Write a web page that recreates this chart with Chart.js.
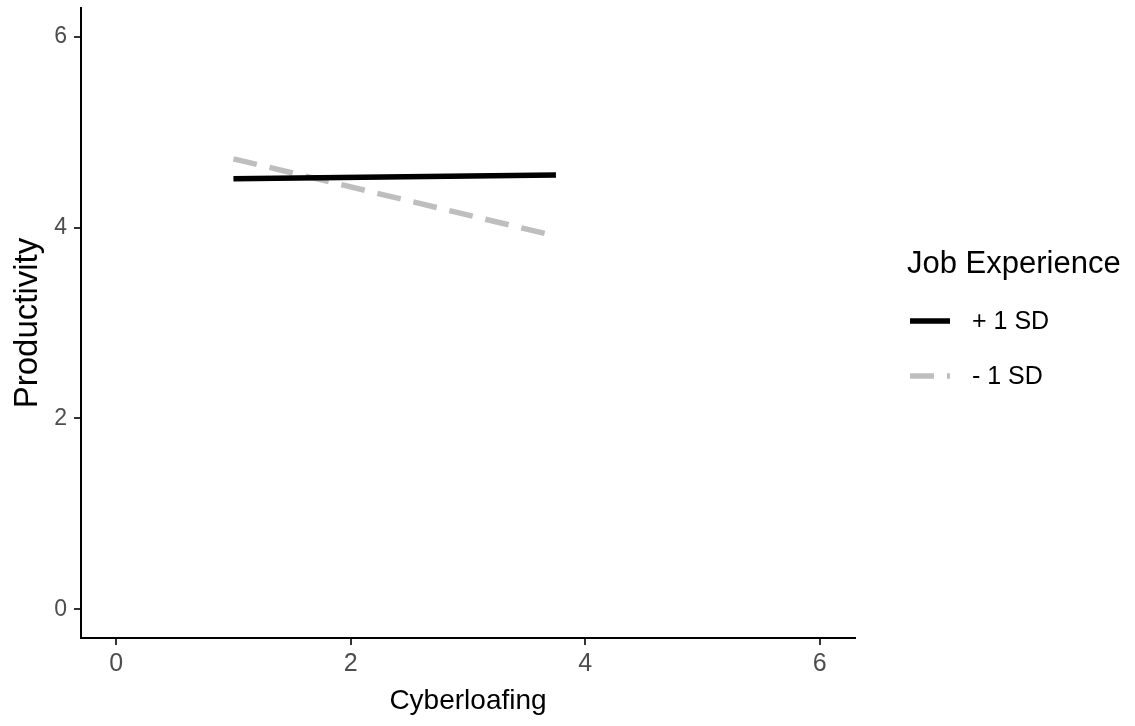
<!DOCTYPE html>
<html>
<head>
<meta charset="utf-8">
<script src="https://cdn.jsdelivr.net/npm/chart.js@4.4.1/dist/chart.umd.min.js"></script>
<style>
  html, body { margin: 0; padding: 0; background: #fff; }
  #wrap { width: 1135px; height: 726px; }
</style>
</head>
<body>
<div id="wrap"><canvas id="slopeChart"></canvas></div>
<script>
var cyberloafing = [1.0, 3.75];
var highExperience = [4.51, 4.55];
var lowExperience = [4.72, 3.91];
var groupLabels = ["+ 1 SD", "- 1 SD"];
var axisTicks = [0, 2, 4, 6];

var FONT = "'Liberation Sans', Arial, Helvetica, sans-serif";

function toPoints(ys) {
    return cyberloafing.map(function (x, i) {
        return { x: x, y: ys[i] };
    });
}

function fixedTicks(scale) {
    scale.ticks = axisTicks.map(function (v) { return { value: v }; });
}

// keep the plot box fixed: no extra room for half tick labels
function noEdgePadding(s) {
    s.paddingTop = 0;
    s.paddingBottom = 0;
    s.paddingLeft = 0;
    s.paddingRight = 0;
}

// legend to the right of the plot, keys use each dataset's own stroke
var sideLegend = {
    id: "sideLegend",
    afterDraw: function (chart) {
        var ctx = chart.ctx;
        var left = chart.chartArea.right + 52;
        ctx.save();
        ctx.fillStyle = "#000";
        ctx.textAlign = "left";
        ctx.textBaseline = "middle";
        ctx.font = "31px " + FONT;
        ctx.fillText("Job Experience", left, 264);
        ctx.font = "25px " + FONT;
        chart.data.datasets.forEach(function (ds, i) {
            var y = 321 + i * 55;
            ctx.beginPath();
            ctx.lineWidth = ds.borderWidth;
            ctx.strokeStyle = ds.borderColor;
            ctx.setLineDash(ds.borderDash || []);
            ctx.moveTo(left + 3, y);
            ctx.lineTo(left + 43, y);
            ctx.stroke();
            ctx.setLineDash([]);
            ctx.fillText(ds.label, left + 65, y + 1);
        });
        ctx.restore();
    }
};

var ctx = document.getElementById("slopeChart").getContext("2d");
var slopeChart = new Chart(ctx, {
    type: "line",
    data: {
        datasets: [
            {
                label: groupLabels[0],
                data: toPoints(highExperience),
                borderColor: "#000000",
                borderWidth: 5.5,
                borderCapStyle: "butt",
                pointRadius: 0,
                fill: false,
            },
            {
                label: groupLabels[1],
                data: toPoints(lowExperience),
                borderColor: "#bebebe",
                borderWidth: 5.5,
                borderDash: [24, 13],
                borderCapStyle: "butt",
                pointRadius: 0,
                fill: false,
            },
        ],
    },
    options: {
        responsive: true,
        maintainAspectRatio: false,
        animation: false,
        layout: { padding: { top: 8, right: 280, left: 0, bottom: 0 } },
        scales: {
            x: {
                type: "linear",
                min: -0.3,
                max: 6.3,
                afterBuildTicks: fixedTicks,
                afterFit: function (s) { s.height = 88; noEdgePadding(s); },
                border: { color: "#000", width: 2 },
                grid: { drawOnChartArea: false, drawTicks: true, tickLength: 7, color: "#333", lineWidth: 2 },
                ticks: { color: "#4d4d4d", padding: 4, font: { family: FONT, size: 25 } },
                title: {
                    display: true,
                    text: "Cyberloafing",
                    color: "#000",
                    padding: { top: 0, bottom: 8 },
                    font: { family: FONT, size: 28 },
                },
            },
            y: {
                type: "linear",
                min: -0.3,
                max: 6.3,
                afterBuildTicks: fixedTicks,
                afterFit: function (s) { s.width = 81; noEdgePadding(s); },
                border: { color: "#000", width: 2 },
                grid: { drawOnChartArea: false, drawTicks: true, tickLength: 7, color: "#333", lineWidth: 2 },
                ticks: { color: "#4d4d4d", padding: 7, font: { family: FONT, size: 23 } },
                title: {
                    display: true,
                    text: "Productivity",
                    color: "#000",
                    padding: { top: 8, bottom: 0 },
                    font: { family: FONT, size: 33 },
                },
            },
        },
        plugins: {
            legend: { display: false },
            tooltip: { enabled: false },
        },
    },
    plugins: [sideLegend],
});
</script>
</body>
</html>
